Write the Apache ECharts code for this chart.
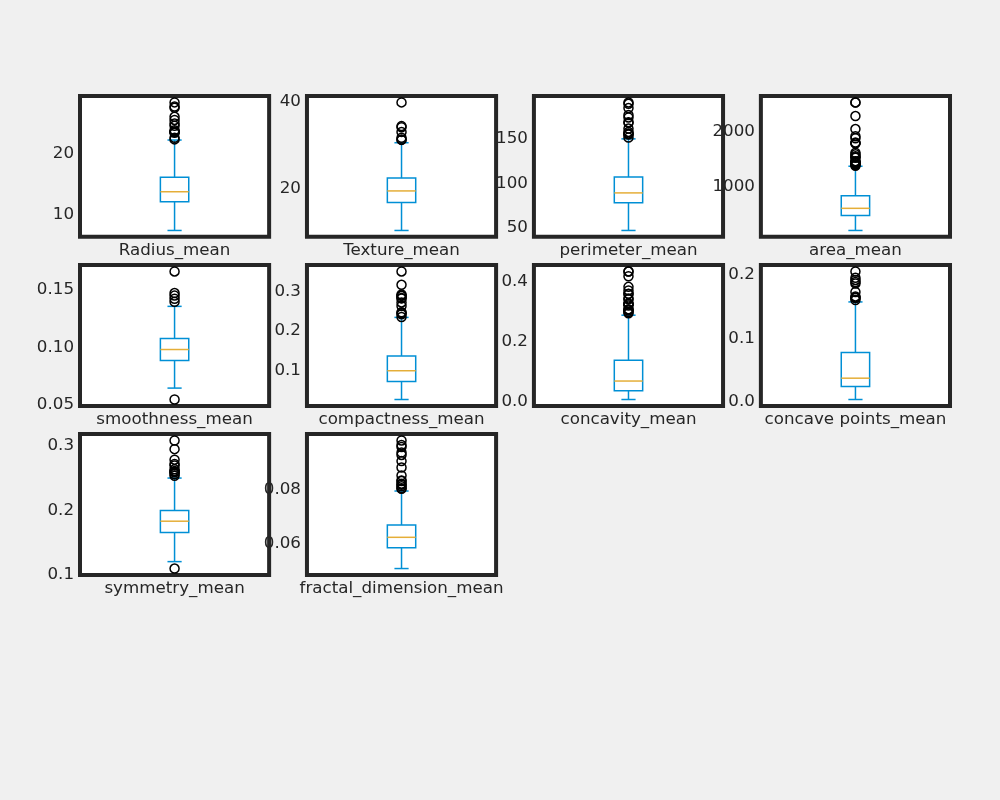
<!DOCTYPE html>
<html>
<head>
<meta charset="utf-8">
<title>Box plots</title>
<script src="https://cdn.jsdelivr.net/npm/echarts@6/dist/echarts.min.js"></script>
<style>
  html, body { margin: 0; padding: 0; background: #f0f0f0; }
  #chart { width: 1000px; height: 800px; }
</style>
</head>
<body>
<div id="chart"></div>
<script>
// column names, one box per panel
var names = ['Radius_mean', 'Texture_mean', 'perimeter_mean', 'area_mean', 'smoothness_mean',
    'compactness_mean', 'concavity_mean', 'concave points_mean', 'symmetry_mean', 'fractal_dimension_mean'];

// box statistics
var whiskerLow = [6.981, 9.71, 43.79, 143.5, 0.0625, 0.01938, 0.0, 0.0, 0.1167, 0.04996];
var q1 = [11.70, 16.17, 75.17, 420.3, 0.08637, 0.06492, 0.02956, 0.02031, 0.1619, 0.0577];
var median = [13.37, 18.84, 86.24, 551.1, 0.09587, 0.09263, 0.06154, 0.0335, 0.1792, 0.06154];
var q3 = [15.78, 21.80, 104.1, 782.7, 0.1053, 0.1304, 0.1307, 0.0740, 0.1957, 0.06612];
var whiskerHigh = [21.9, 29.97, 147.3, 1326, 0.1332, 0.2284, 0.2810, 0.1533, 0.2459, 0.0787];

// outliers
var fliers = [
    [22.01, 22.27, 23.09, 23.21, 23.27, 23.29, 23.51, 24.25, 24.63, 25.22, 25.73, 27.22, 27.42, 28.11],
    [30.62, 30.72, 31.12, 32.47, 33.56, 33.81, 39.28],
    [148.7, 152.1, 152.8, 153.5, 155.1, 158.9, 165.5, 166.2, 171.5, 174.2, 182.1, 186.9, 188.5],
    [1335, 1347, 1364, 1384, 1386, 1403, 1407, 1419, 1482, 1491, 1509, 1546, 1574, 1747, 1750, 1761,
        1841, 1878, 2010, 2250, 2499, 2501],
    [0.05263, 0.1371, 0.1398, 0.1425, 0.1447, 0.1634],
    [0.2293, 0.2363, 0.2396, 0.2413, 0.2576, 0.2665, 0.2768, 0.2776, 0.2832, 0.2839, 0.2867, 0.3114, 0.3454],
    [0.2871, 0.2914, 0.2965, 0.3001, 0.3003, 0.3130, 0.3174, 0.3189, 0.3201, 0.3339, 0.3368, 0.3514,
        0.3523, 0.3635, 0.3754, 0.4108, 0.4264, 0.4268],
    [0.1562, 0.1595, 0.1604, 0.1620, 0.1689, 0.1823, 0.1845, 0.1878, 0.1913, 0.2012],
    [0.106, 0.2495, 0.2521, 0.2548, 0.2556, 0.2569, 0.2595, 0.2655, 0.2678, 0.2743, 0.2906, 0.304],
    [0.0795, 0.07976, 0.08046, 0.08104, 0.08142, 0.08243, 0.08261, 0.0845, 0.08743, 0.0898, 0.09208,
        0.09296, 0.09502, 0.09575, 0.09744]
];

// y tick labels for each panel
var yTickLabels = [
    ['10', '20'], ['20', '40'], ['50', '100', '150'], ['1000', '2000'], ['0.05', '0.10', '0.15'],
    ['0.1', '0.2', '0.3'], ['0.0', '0.2', '0.4'], ['0.0', '0.1', '0.2'], ['0.1', '0.2', '0.3'], ['0.06', '0.08']
];

var FONT = 'DejaVu Sans';
var TEXT = '#262626';
var BOX = '#008fd5';
var MED = '#e5ae38';

// 4x4 layout like the figure, only the first 10 used
var left0 = 80, top0 = 96;
var cellW = 189.13, cellH = 140.87;
var gapW = 37.83, gapH = 28.17;

function renderBox(params, api) {
    var x = api.value(0);
    var pLo = api.coord([x, api.value(1)]);
    var pQ1 = api.coord([x, api.value(2)]);
    var pMed = api.coord([x, api.value(3)]);
    var pQ3 = api.coord([x, api.value(4)]);
    var pHi = api.coord([x, api.value(5)]);
    var band = api.size([1, 0])[0];
    var half = band * 0.15 / 2;
    var cap = half / 2;
    var cx = pLo[0];
    var st = { stroke: BOX, lineWidth: 1.5, fill: null };
    return {
        type: 'group',
        children: [
            { type: 'line', shape: { x1: cx, y1: pLo[1], x2: cx, y2: pQ1[1] }, style: st },
            { type: 'line', shape: { x1: cx, y1: pQ3[1], x2: cx, y2: pHi[1] }, style: st },
            { type: 'line', shape: { x1: cx - cap, y1: pLo[1], x2: cx + cap, y2: pLo[1] }, style: st },
            { type: 'line', shape: { x1: cx - cap, y1: pHi[1], x2: cx + cap, y2: pHi[1] }, style: st },
            { type: 'rect', shape: { x: cx - half, y: pQ3[1], width: half * 2, height: pQ1[1] - pQ3[1] },
                style: { stroke: BOX, lineWidth: 1.5, fill: 'rgba(0,0,0,0)' } },
            { type: 'line', shape: { x1: cx - half, y1: pMed[1], x2: cx + half, y2: pMed[1] },
                style: { stroke: MED, lineWidth: 1.5 } }
        ]
    };
}

var grids = [], xAxes = [], yAxes = [], series = [];

names.forEach(function (name, i) {
    var r = Math.floor(i / 4), c = i % 4;
    grids.push({
        left: left0 + c * (cellW + gapW),
        top: top0 + r * (cellH + gapH),
        width: cellW,
        height: cellH,
        show: true,
        backgroundColor: '#ffffff',
        borderColor: TEXT,
        borderWidth: 4
    });

    xAxes.push({
        type: 'category',
        gridIndex: i,
        data: [name],
        boundaryGap: true,
        axisLine: { show: false },
        axisTick: { show: false },
        splitLine: { show: false },
        axisLabel: { fontFamily: FONT, fontSize: 16.7, color: TEXT, margin: 5 }
    });

    // matplotlib style 5% margin around the data
    var all = fliers[i].concat([whiskerLow[i], whiskerHigh[i]]);
    var lo = Math.min.apply(null, all), hi = Math.max.apply(null, all);
    var pad = (hi - lo) * 0.05;
    var labels = yTickLabels[i];
    var step = parseFloat(labels[1]) - parseFloat(labels[0]);
    var dec = (labels[0].split('.')[1] || '').length;

    yAxes.push({
        type: 'value',
        gridIndex: i,
        min: lo - pad,
        max: hi + pad,
        minInterval: step,
        maxInterval: step,
        splitNumber: 3,
        axisLine: { show: false },
        axisTick: { show: false },
        splitLine: { show: false },
        axisLabel: {
            fontFamily: FONT, fontSize: 16.7, color: TEXT, margin: 6,
            showMinLabel: false, showMaxLabel: false,
            rich: { t: { fontFamily: FONT, fontSize: 16.7, color: TEXT, padding: [5, 0, 0, 0] } },
            formatter: (function (labels, dec, step) {
                return function (v) {
                    var s = v.toFixed(dec);
                    if (labels.indexOf(s) < 0) return '';
                    if (Math.abs(v - parseFloat(s)) > step * 1e-3) return '';
                    return '{t|' + s + '}';
                };
            })(labels, dec, step)
        }
    });

    series.push({
        type: 'custom',
        xAxisIndex: i,
        yAxisIndex: i,
        silent: true,
        renderItem: renderBox,
        encode: { x: 0, y: [1, 2, 3, 4, 5] },
        data: [[0, whiskerLow[i], q1[i], median[i], q3[i], whiskerHigh[i]]]
    });

    series.push({
        type: 'scatter',
        xAxisIndex: i,
        yAxisIndex: i,
        silent: true,
        symbol: 'circle',
        symbolSize: 9,
        itemStyle: { color: 'rgba(0,0,0,0)', borderColor: '#000000', borderWidth: 1.5, opacity: 1 },
        data: fliers[i].map(function (v) { return [0, v]; })
    });
});

var chart = echarts.init(document.getElementById('chart'));
chart.setOption({
    backgroundColor: '#f0f0f0',
    animation: false,
    grid: grids,
    xAxis: xAxes,
    yAxis: yAxes,
    series: series
});
</script>
</body>
</html>
